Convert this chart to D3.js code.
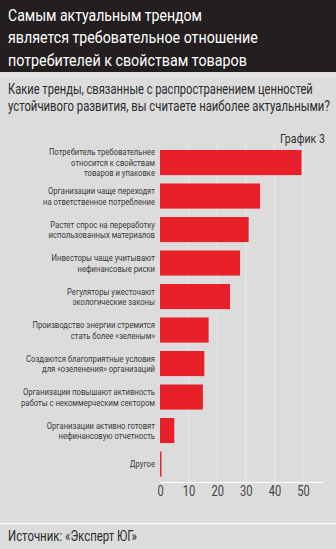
<!DOCTYPE html>
<html><head><meta charset="utf-8">
<script src="https://cdn.jsdelivr.net/npm/d3@7/dist/d3.min.js"></script>
<style>
html,body{margin:0;padding:0;background:#dcdcdc;}
svg{display:block;}
text{font-family:Roboto,"Liberation Sans",sans-serif;}
</style></head>
<body>
<svg id="c" width="336" height="549"></svg>
<script>
const titleLines = ["Самым актуальным трендом","является требовательное отношение","потребителей к свойствам товаров"];
const subtitleLines = ["Какие тренды, связанные с распространением ценностей","устойчивого развития, вы считаете наиболее актуальными?"];
const chartLabel = "График 3";
const source = "Источник: «Эксперт ЮГ»";
const categories = [
  ["Потребитель требовательнее","относится к свойствам","товаров и упаковке"],
  ["Организации чаще переходят","на ответственное потребление"],
  ["Растет спрос на переработку","использованных материалов"],
  ["Инвесторы чаще учитывают","нефинансовые риски"],
  ["Регуляторы ужесточают","экологические законы"],
  ["Производство энергии стремится","стать более «зеленым»"],
  ["Создаются благоприятные условия","для «озеленения» организаций"],
  ["Организации повышают активность","работы с некоммерческим сектором"],
  ["Организации активно готовят","нефинансовую отчетность"],
  ["Другое"]
];
const values = [49.5, 35, 31, 28, 24.5, 17, 15.5, 15, 5, 0.5];
const tickValues = [0, 10, 20, 30, 40, 50];

const svg = d3.select("#c");
const W = 336, H = 549;

function squeeze(sel, factor) {
  sel.each(function () {
    const w = this.getComputedTextLength();
    d3.select(this).attr("textLength", w * factor).attr("lengthAdjust", "spacingAndGlyphs");
  });
}
// horizontally scaled text placed via transform so its box is the visible one
function scaledText(x0, y0, str, size, fill, width) {
  const g = svg.append("g");
  const t = g.append("text").attr("x", 0).attr("y", 0).attr("fill", fill)
    .attr("font-size", size).text(str);
  const w = t.node().getComputedTextLength();
  g.attr("transform", `translate(${x0},${y0}) scale(${width / w},1)`);
  return t;
}

// backgrounds
svg.append("rect").attr("width", W).attr("height", H).attr("fill", "#dcdcdc");
svg.append("rect").attr("width", W).attr("height", 72).attr("fill", "#231f20");
svg.append("rect").attr("y", 72).attr("width", W).attr("height", 6).attr("fill", "#e3e3e3");

// title
const tW = [194, 250, 239];
titleLines.forEach((t, i) => scaledText(8, 20.5 + i * 22.5, t, 16, "#ffffff", tW[i]));
// subtitle
const sW = [305, 322];
subtitleLines.forEach((t, i) => scaledText(8, 94 + i * 17, t, 14, "#2b2b2b", sW[i]));
svg.append("text").attr("x", 325).attr("y", 142.5).attr("text-anchor", "end")
  .attr("fill", "#333").attr("font-size", 13)
  .attr("textLength", 45).attr("lengthAdjust", "spacingAndGlyphs").text(chartLabel);

// scales
const x = d3.scaleLinear().domain([0, 57]).range([160, 323]);
const y = d3.scaleBand().domain(d3.range(values.length)).range([145.8, 480.8])
  .paddingInner(0.25).paddingOuter(0.125);

// grid
svg.append("g").selectAll("line").data(tickValues.filter(d => d > 0)).join("line")
  .attr("x1", d => x(d)).attr("x2", d => x(d))
  .attr("y1", 144).attr("y2", 482)
  .attr("stroke", "#ececec").attr("stroke-width", 0.8);

// bars
svg.append("g").selectAll("rect").data(values).join("rect")
  .attr("x", x(0)).attr("y", (d, i) => y(i))
  .attr("width", d => x(d) - x(0)).attr("height", y.bandwidth())
  .attr("fill", "#e8202a");

// category labels
const lh = 10.5;
const lg = svg.append("g");
categories.forEach((lines, i) => {
  const cy = y(i) + y.bandwidth() / 2;
  lines.forEach((l, j) => {
    lg.append("text").attr("class", "lab").attr("text-anchor", "end").attr("fill", "#3a3a3a")
      .attr("font-size", 9.6).attr("x", 155)
      .attr("y", cy + (j - (lines.length - 1) / 2) * lh + 3.4).text(l);
  });
});
const refNode = lg.selectAll("text.lab").filter(function () { return this.textContent === "на ответственное потребление"; }).node();
const labFactor = 112 / refNode.getComputedTextLength();
squeeze(lg.selectAll("text.lab"), labFactor);

// axis
const axis = d3.axisBottom(x).tickValues(tickValues).tickSize(0).tickPadding(3);
const ag = svg.append("g").attr("transform", "translate(0,482)").call(axis);
ag.select(".domain").attr("stroke", "#ffffff").attr("stroke-width", 1.2);
ag.selectAll("text").attr("font-size", 15).attr("fill", "#444")
  .attr("font-family", "Roboto,sans-serif");
squeeze(ag.selectAll("text"), 0.74);

// footer
svg.append("rect").attr("y", 523).attr("width", W).attr("height", 1.2).attr("fill", "#ffffff");
scaledText(8, 541, source, 14, "#2b2b2b", 129);
</script>
</body></html>
